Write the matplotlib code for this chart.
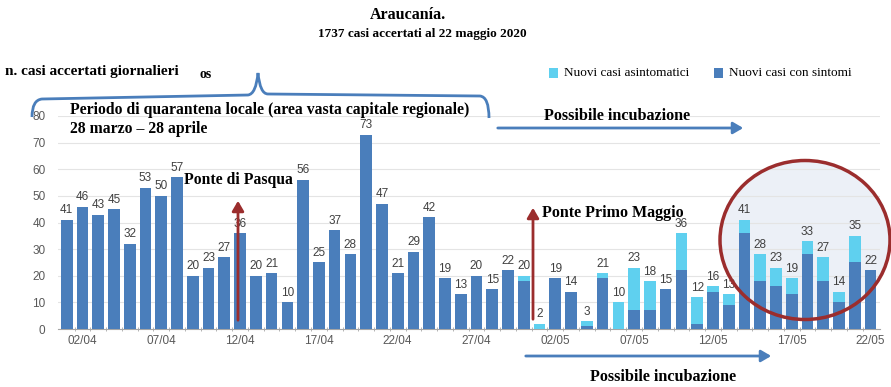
import numpy as np
import pandas as pd
import matplotlib
matplotlib.use('Agg')
import matplotlib.pyplot as plt
from matplotlib.patches import Ellipse, FancyArrowPatch, Rectangle, PathPatch
from matplotlib.path import Path

plt.rcParams['font.family'] = 'Liberation Serif'

# daily cases 01/04 - 22/05
giorni = pd.date_range('2020-04-01', '2020-05-22')
sintomi = [41, 46, 43, 45, 32, 53, 50, 57, 20, 23, 27, 36, 20, 21, 10, 56, 25, 37, 28, 73,
           47, 21, 29, 42, 19, 13, 20, 15, 22, 18, 0, 19, 14, 1, 19, 0, 7, 7, 15, 22,
           2, 14, 9, 36, 18, 16, 13, 28, 18, 10, 25, 22]
asintomatici = [0] * 29 + [2, 2, 0, 0, 2, 2, 10, 16, 11, 0, 14,
                           10, 2, 4, 5, 10, 7, 6, 5, 9, 4, 10, 0]
etichette = [d.strftime('%d/%m') for d in giorni]

W, H = 891, 387
def px(x, y):
    # pixel position (from top-left) -> figure fraction
    return x / W, 1 - y / H

col_sint = '#4a7ebb'
col_asint = '#5fd0ef'
col_red = '#9b2d2d'

fig = plt.figure(figsize=(W / 100, H / 100), dpi=100)
fig.patch.set_facecolor('white')

# ellipse fill behind the chart
cx, cy = px(805, 240)
fig.add_artist(Ellipse((cx, cy), 170 / W, 159 / H, transform=fig.transFigure,
                       facecolor='#e4eaf4', edgecolor='none', alpha=0.7, zorder=-1))

ax = fig.add_axes([58 / W, 1 - 329 / H, 822 / W, 213 / H])
ax.set_facecolor('none')

x = np.arange(len(giorni))
s = np.array(sintomi)
a = np.array(asintomatici)
tot = s + a
ax.bar(x, s, width=0.74, color=col_sint, zorder=3)
ax.bar(x, a, bottom=s, width=0.74, color=col_asint, zorder=3)
for xi, t in zip(x, tot):
    ax.text(xi, t + 1.3, str(t), ha='center', va='bottom', fontsize=8.5,
            color='#404040', family='Liberation Sans', zorder=4)

ax.set_xlim(-0.55, len(giorni) - 0.4)
ax.set_ylim(0, 80)
ax.set_yticks(range(0, 81, 10))
ax.yaxis.grid(True, color='#e4e4e4', lw=0.8, zorder=0)
ax.set_xticks(x[1::5])
ax.set_xticklabels(etichette[1::5])
ax.set_xticks(x[:-1] + 0.5, minor=True)
for sp in ['top', 'right', 'left']:
    ax.spines[sp].set_visible(False)
ax.spines['bottom'].set_color('#a6a6a6')
ax.tick_params(axis='y', length=0, pad=9, labelsize=8.5, labelcolor='#595959')
ax.tick_params(axis='x', which='major', length=0, pad=4, labelsize=8.5, labelcolor='#595959')
ax.tick_params(axis='x', which='minor', length=3, direction='inout', color='#a6a6a6')
for lab in ax.get_xticklabels() + ax.get_yticklabels():
    lab.set_family('Liberation Sans')

# ellipse outline
fig.add_artist(Ellipse((cx, cy), 170 / W, 159 / H, transform=fig.transFigure,
                       facecolor='none', edgecolor=col_red, lw=2.5, zorder=10))

# titles
fig.text(*px(408, 15), 'Araucanía.', ha='center', va='center', fontsize=11.5, fontweight='bold')
fig.text(*px(422, 34), '1737 casi accertati al 22 maggio 2020', ha='center', va='center',
         fontsize=9.5, fontweight='bold')
fig.text(*px(5, 71), 'n. casi accertati giornalieri', ha='left', va='center',
         fontsize=11, fontweight='bold')
fig.text(*px(199, 75), 'os', ha='left', va='center', fontsize=10, fontweight='bold')

# legend
for lx, c, t in [(549, col_asint, 'Nuovi casi asintomatici'), (714, col_sint, 'Nuovi casi con sintomi')]:
    fig.add_artist(Rectangle(px(lx, 78), 9 / W, 10 / H, transform=fig.transFigure,
                             facecolor=c, edgecolor='none'))
    fig.text(*px(lx + 15, 73), t, ha='left', va='center', fontsize=9.5)

# curly brace
pts = [px(32, 117), px(32, 100), px(42, 99),
       px(248, 95), px(256, 94), px(258, 73),
       px(260, 94), px(268, 94), px(480, 96),
       px(489, 97), px(489, 118)]
codes = [Path.MOVETO, Path.CURVE3, Path.CURVE3,
         Path.LINETO, Path.CURVE3, Path.CURVE3,
         Path.CURVE3, Path.CURVE3, Path.LINETO,
         Path.CURVE3, Path.CURVE3]
fig.add_artist(PathPatch(Path(pts, codes), transform=fig.transFigure, facecolor='none',
                         edgecolor=col_sint, lw=2, zorder=5))

fig.text(*px(70, 110), 'Periodo di quarantena locale (area vasta capitale regionale)',
         ha='left', va='center', fontsize=11.3, fontweight='bold')
fig.text(*px(70, 129), '28 marzo – 28 aprile', ha='left', va='center',
         fontsize=11.3, fontweight='bold')

# incubation arrows
fig.text(*px(544, 116), 'Possibile incubazione', ha='left', va='center',
         fontsize=11.6, fontweight='bold')
fig.add_artist(FancyArrowPatch(px(495, 128), px(746, 128), transform=fig.transFigure,
                               arrowstyle='-|>,head_length=6,head_width=3.5',
                               color=col_sint, lw=2, zorder=5))
fig.add_artist(FancyArrowPatch(px(523, 356), px(774, 356), transform=fig.transFigure,
                               arrowstyle='-|>,head_length=6,head_width=3.5',
                               color=col_sint, lw=2, zorder=5))
fig.text(*px(590, 377), 'Possibile incubazione', ha='left', va='center',
         fontsize=11.6, fontweight='bold')

# holiday arrows
fig.add_artist(FancyArrowPatch(px(238, 323), px(238, 198), transform=fig.transFigure,
                               arrowstyle='-|>,head_length=6,head_width=3.5',
                               color=col_red, lw=2, zorder=6))
fig.text(*px(184, 180), 'Ponte di Pasqua', ha='left', va='center',
         fontsize=11.3, fontweight='bold')
fig.add_artist(FancyArrowPatch(px(533, 322), px(533, 205), transform=fig.transFigure,
                               arrowstyle='-|>,head_length=6,head_width=3.5',
                               color=col_red, lw=2, zorder=6))
fig.text(*px(542, 213), 'Ponte Primo Maggio', ha='left', va='center',
         fontsize=11.5, fontweight='bold')

fig.savefig('out.png', dpi=100)
